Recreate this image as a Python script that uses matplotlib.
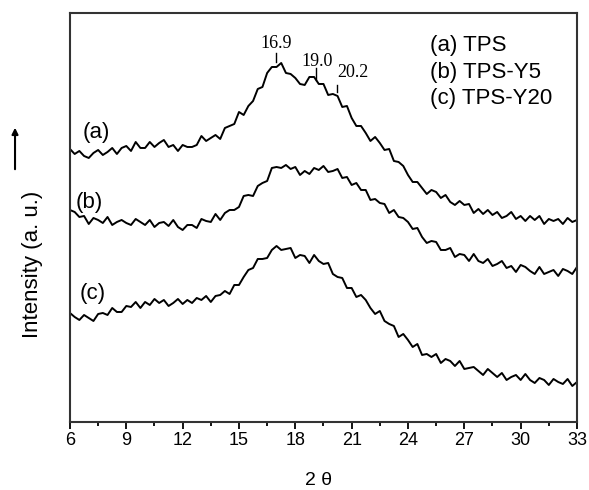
import numpy as np
import matplotlib
matplotlib.use("Agg")
import matplotlib.pyplot as plt

# ============================
# Datos (2θ cada 0.25°, intensidad en u.a.)
# ============================
two_theta = np.arange(6.0, 33.001, 0.25)

tps = [273, 268, 271, 266, 264, 269, 272, 267, 270, 274,
       268, 274, 276, 271, 280, 274, 274, 280, 275, 279,
       282, 275, 277, 271, 277, 275, 275, 277, 286, 281,
       284, 287, 283, 294, 296, 298, 310, 307, 316, 321,
       333, 335, 349, 355, 355, 359, 349, 348, 344, 338,
       337, 345, 345, 338, 338, 327, 328, 326, 315, 316,
       304, 296, 296, 289, 281, 285, 279, 272, 273, 261,
       260, 256, 247, 240, 240, 234, 228, 232, 230, 224,
       227, 220, 217, 221, 217, 218, 209, 213, 208, 212,
       207, 210, 204, 206, 210, 203, 206, 201, 206, 202,
       206, 198, 203, 201, 203, 198, 204, 200, 202]

tps_y5 = [212, 210, 205, 206, 198, 204, 202, 199, 205, 197,
          200, 202, 199, 197, 203, 200, 197, 202, 195, 199,
          200, 196, 202, 195, 192, 197, 197, 194, 203, 201,
          200, 208, 202, 209, 212, 212, 215, 226, 227, 226,
          236, 239, 241, 254, 255, 254, 257, 253, 255, 247,
          251, 248, 254, 252, 256, 250, 251, 253, 244, 245,
          237, 239, 232, 232, 222, 223, 219, 218, 209, 212,
          205, 204, 200, 193, 194, 185, 179, 181, 180, 172,
          172, 174, 165, 168, 167, 161, 168, 161, 159, 163,
          156, 158, 161, 154, 156, 150, 157, 155, 151, 148,
          155, 148, 150, 152, 146, 153, 151, 148, 155]

tps_y20 = [109, 105, 102, 107, 104, 101, 108, 109, 107, 114,
           110, 110, 116, 115, 120, 114, 120, 117, 123, 119,
           122, 116, 119, 123, 118, 122, 119, 124, 122, 126,
           120, 126, 127, 131, 128, 137, 137, 145, 152, 154,
           163, 163, 164, 172, 176, 172, 173, 174, 164, 167,
           166, 159, 167, 161, 158, 159, 148, 145, 144, 134,
           134, 125, 127, 122, 114, 108, 111, 101, 98, 96,
           85, 88, 82, 75, 78, 67, 68, 65, 68, 59,
           63, 61, 56, 61, 53, 54, 55, 51, 47, 53,
           49, 45, 49, 42, 45, 47, 42, 48, 42, 39,
           44, 42, 37, 43, 40, 38, 43, 36, 40]

curve_tags = ["(a)", "(b)", "(c)"]
tag_pos = [(7.38, 289), (7.01, 219), (7.22, 128)]
legend_lines = ["(a) TPS", "(b) TPS-Y5", "(c) TPS-Y20"]

# picos marcados sobre la curva (a): texto, posición del texto, marca (x, y0, y1)
peak_labels = ["16.9", "19.0", "20.2"]
peak_text_xy = [(17.0, 378), (19.15, 360), (21.07, 349)]
peak_tick = [(16.97, 360, 369), (19.1, 342, 354), (20.22, 330, 337)]

x_ticks = [6, 9, 12, 15, 18, 21, 24, 27, 30, 33]

plt.rcParams["font.family"] = ["Liberation Sans", "DejaVu Sans"]

fig = plt.figure(figsize=(5.89, 4.90), dpi=100)
ax = fig.add_axes([0.1188, 0.1388, 0.8608, 0.8347])

for serie in (tps, tps_y5, tps_y20):
    ax.plot(two_theta, serie, color="black", lw=1.4)

ax.set_xlim(6, 33)
ax.set_ylim(0, 409)

for tag, (tx, ty) in zip(curve_tags, tag_pos):
    ax.text(tx, ty, tag, fontsize=16, ha="center", va="center")

for i, line in enumerate(legend_lines):
    ax.text(25.17, 376 - i * 26.5, line, fontsize=16, ha="left", va="center")

for lab, (tx, ty), (mx, y0, y1) in zip(peak_labels, peak_text_xy, peak_tick):
    ax.text(tx, ty, lab, fontsize=13, ha="center", va="center",
            family="Liberation Serif")
    ax.plot([mx, mx], [y0, y1], color="black", lw=1.0)

# ejes
ax.set_xticks(x_ticks)
ax.set_xticks(np.arange(7.5, 33, 3), minor=True)
ax.set_yticks([])
ax.tick_params(axis="x", which="major", direction="out", length=5, width=1.3,
               labelsize=13, pad=2)
ax.tick_params(axis="x", which="minor", direction="out", length=3, width=1.3)
for sp in ax.spines.values():
    sp.set_linewidth(1.5)
    sp.set_color("#333333")

ax.set_xlabel("2 θ", fontsize=14, va="center")
ax.xaxis.set_label_coords(0.491, -0.142)
ax.set_ylabel("Intensity (a. u.)", fontsize=16, va="center")
ax.yaxis.set_label_coords(-0.073, 0.386)

# flecha de intensidad a la izquierda
fig.add_artist(matplotlib.patches.FancyArrowPatch(
    (0.0255, 0.649), (0.0255, 0.745), transform=fig.transFigure,
    arrowstyle="-|>", mutation_scale=9, lw=1.5, color="black"))

fig.savefig("out.png", dpi=100)
